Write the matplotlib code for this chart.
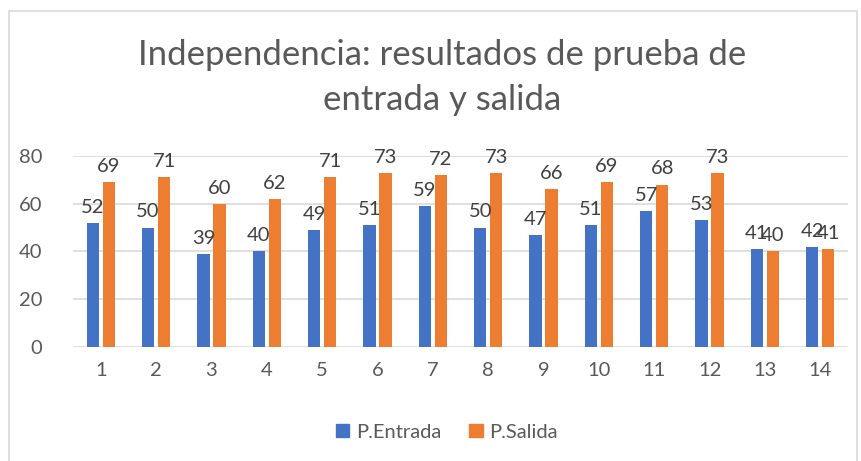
import matplotlib
matplotlib.use("Agg")
import matplotlib.pyplot as plt
import numpy as np
from matplotlib.patches import Rectangle, Patch

categories = ["1", "2", "3", "4", "5", "6", "7", "8", "9", "10", "11", "12", "13", "14"]
entrada = [52, 50, 39, 40, 49, 51, 59, 50, 47, 51, 57, 53, 41, 42]
salida = [69, 71, 60, 62, 71, 73, 72, 73, 66, 69, 68, 73, 40, 41]
yticks = [0, 20, 40, 60, 80]

plt.rcParams['font.family'] = ['Lato', 'DejaVu Sans']

W, H = 862, 461
fig = plt.figure(figsize=(W / 100, H / 100), dpi=100)
fig.patch.set_facecolor('white')

# chart border
fig.patches.append(Rectangle((9 / W, -0.1), (857 - 9) / W, 1 - 11 / H + 0.1,
                             transform=fig.transFigure, fill=False,
                             edgecolor='#d9d9d9', linewidth=1.2))

ax = fig.add_axes([73 / W, 1 - 347 / H, (848 - 73) / W, (347 - 156) / H])
x = np.arange(len(categories))
bw = 0.222
off = 0.145
c_blue = '#4472C4'
c_orange = '#ED7D31'
ax.bar(x - off, entrada, bw, color=c_blue, zorder=3)
ax.bar(x + off, salida, bw, color=c_orange, zorder=3)

fs = 14.5
for xi, v in zip(x, entrada):
    ax.text(xi - off, v + 3.0, str(v), ha='center', va='bottom', fontsize=fs,
            color='#404040', clip_on=False)
for xi, v in zip(x, salida):
    ax.text(xi + off, v + 3.0, str(v), ha='center', va='bottom', fontsize=fs,
            color='#404040', clip_on=False)

ax.set_xlim(-0.5, len(categories) - 0.5)
ax.set_ylim(0, 80)
ax.set_yticks(yticks)
ax.set_xticks(x)
ax.set_xticklabels(categories)
ax.tick_params(axis='both', length=0, labelsize=fs, labelcolor='#595959')
ax.tick_params(axis='y', pad=22)
ax.tick_params(axis='x', pad=11)
ax.grid(axis='y', color='#d9d9d9', linewidth=1.2, zorder=0)
for s in ax.spines.values():
    s.set_visible(False)

fig.text(442 / W, 1 - 55 / H, "Independencia: resultados de prueba de",
         ha='center', va='center', fontsize=25, color='#595959')
fig.text(442 / W, 1 - 100 / H, "entrada y salida",
         ha='center', va='center', fontsize=25, color='#595959')

handles = [Patch(color=c_blue, label='P.Entrada'), Patch(color=c_orange, label='P.Salida')]
fig.legend(handles=handles, loc='center', bbox_to_anchor=(447 / W, 1 - 432 / H),
           ncol=2, frameon=False, fontsize=fs, labelcolor='#595959',
           handlelength=0.65, handleheight=0.65, handletextpad=0.35, columnspacing=1.4)

fig.savefig('out.png', dpi=100)
